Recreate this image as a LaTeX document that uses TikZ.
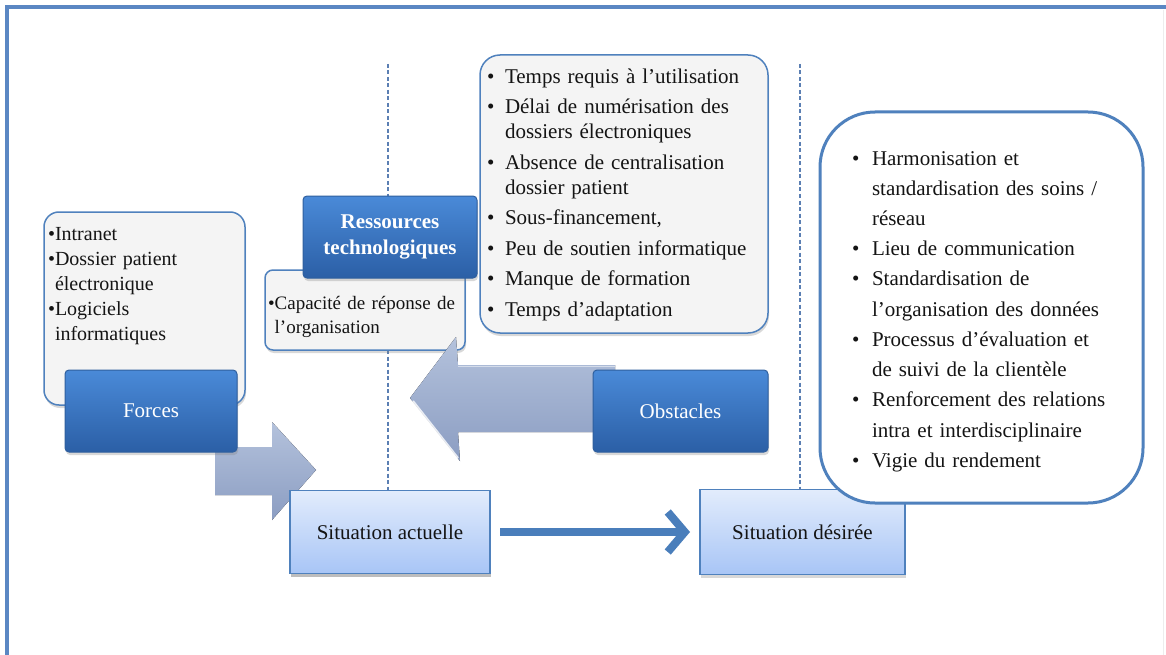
\documentclass[tikz,border=0pt]{standalone}
\usepackage{fontspec}
\setmainfont{Liberation Serif}
\usetikzlibrary{shadows,arrows.meta}

\definecolor{framec}{HTML}{5B87C3}
\definecolor{edgec}{HTML}{4F81BD}
\definecolor{darktop}{HTML}{4A8AD8}
\definecolor{darkbot}{HTML}{2B5FA6}
\definecolor{darkedge}{HTML}{2F5F9E}
\definecolor{paletop}{HTML}{E2ECFC}
\definecolor{palebot}{HTML}{A8C5F6}
\definecolor{panelfill}{HTML}{F4F4F4}
\definecolor{arrtop}{HTML}{B4C2DC}
\definecolor{arrbot}{HTML}{8B9DC2}
\definecolor{dashc}{HTML}{5B7FB3}
\definecolor{flowc}{HTML}{4A7EBB}
\definecolor{inkc}{HTML}{141414}

% bullet set in a box of fixed width, continuation lines hang under the text
\newcommand{\dotitem}[2]{\par\hangindent=#1\hangafter=1\noindent\makebox[#1][l]{•}#2}
% bullet glued to the text, continuation lines hang under the text
\newcommand{\tightitem}[1]{\par\setbox0=\hbox{•}\hangindent=\wd0 \hangafter=1\noindent\box0 #1}

\tikzset{
  every node/.style={inner sep=0pt, outer sep=0pt},
  softshadow/.style={drop shadow={opacity=0.3, shadow xshift=1pt, shadow yshift=-3pt}},
  titlebox/.style={draw=darkedge, line width=1pt, rounded corners=4pt,
    top color=darktop, bottom color=darkbot, text=white, align=center,
    font=\fontsize{21}{26}\selectfont, softshadow},
  panel/.style={draw=edgec, line width=1.5pt, fill=panelfill, softshadow},
  listtext/.style={text=inkc, align=left, anchor=north west},
  situation/.style={draw=edgec, line width=1.2pt, top color=paletop, bottom color=palebot,
    text=inkc, font=\fontsize{21}{26}\selectfont, softshadow},
  sepline/.style={dashc, line width=1.1pt, dash pattern=on 4pt off 2.5pt},
  blockarrow/.style={top color=arrtop, bottom color=arrbot, draw=none},
  flowarrow/.style={flowc, line width=8pt,
    -{Straight Barb[length=17pt, width=40pt, line width=8pt]}},
}

\begin{document}
\begin{tikzpicture}[x=1pt, y=-1pt]
\useasboundingbox (0,0) rectangle (1166,655);
\fill[white] (0,0) rectangle (1166,655);

% outer frame
\draw[framec, line width=4pt] (7,660) -- (7,7.5) -- (1170,7.5);
\draw[black!7, line width=1pt] (1163,10) -- (1163,655);

% situation boxes (placed first so the separators can end on them)
\node[situation, minimum width=200pt, minimum height=83pt] (sa) at (390,532) {Situation actuelle};
\node[situation, minimum width=205pt, minimum height=85pt] (sd) at (802.5,532) {Situation désirée};

% dashed separators
\coordinate (sep1) at (388,64);
\coordinate (sep2) at (800,64);
\draw[sepline] (sep1) -- (sep1 |- sa.north);
\draw[sepline] (sep2) -- (sep2 |- sd.north);

% strengths
\node[panel, rounded corners=15pt, minimum width=201pt, minimum height=193pt, anchor=north west]
  (forcespanel) at (44,212) {};
\node[listtext, text width=195pt, font=\fontsize{20}{25}\selectfont] (forceslist) at (48,215)
  {\tightitem{Intranet}\tightitem{Dossier patient\newline électronique}\tightitem{Logiciels\newline informatiques}\par};

% arrow pushing towards the current situation
\fill[blockarrow] (215,447) -- (272,447) -- (272,422) -- (316,470) -- (272,520) -- (272,495) -- (215,495) -- cycle;
\node[titlebox, minimum width=172pt, minimum height=82pt] (forces) at (151,411) {Forces};

% redraw the current situation over the arrow head
\node[situation, minimum width=200pt, minimum height=83pt] at (sa) {Situation actuelle};

% technological resources
\node[panel, rounded corners=8pt, minimum width=200pt, minimum height=80pt, anchor=north west]
  (capapanel) at (265,270) {};
\node[listtext, text width=195pt, font=\fontsize{19}{24}\selectfont] (capalist) at (268,285)
  {\tightitem{Capacité de réponse de\newline l’organisation}\par};
\node[titlebox, font=\bfseries\fontsize{21}{26}\selectfont, minimum width=174pt, minimum height=82pt]
  (ressources) at (390,237) {Ressources\\technologiques};

% obstacles
\node[panel, rounded corners=20pt, minimum width=288pt, minimum height=278pt, anchor=north west]
  (obstpanel) at (480,55) {};
\node[listtext, text width=280pt, font=\fontsize{21}{25}\selectfont] (obstlist) at (487,53)
  {\setlength{\parskip}{5.5pt}%
   \dotitem{18pt}{Temps requis à l’utilisation}%
   \dotitem{18pt}{Délai de numérisation des\newline dossiers électroniques}%
   \dotitem{18pt}{Absence de centralisation\newline dossier patient}%
   \dotitem{18pt}{Sous-financement,}%
   \dotitem{18pt}{Peu de soutien informatique}%
   \dotitem{18pt}{Manque de formation}%
   \dotitem{18pt}{Temps d’adaptation}\par};

% arrow pushing back against the current situation
\fill[blockarrow] (615,365) -- (458,365) -- (456,337) -- (410,398) -- (460,461) -- (458,432) -- (615,432) -- cycle;
\draw[white, opacity=0.8, line width=2pt] (413,401) -- (458,458);
\draw[white, opacity=0.5, line width=1pt] (458,366) -- (615,366);
\node[titlebox, minimum width=175pt, minimum height=82pt] (obstacles) at (680.5,411) {Obstacles};

% transition from current to desired situation
\draw[flowarrow, shorten <=10pt, shorten >=10pt] (sa) -- (sd);

% desired situation details
\node[draw=edgec, line width=3pt, fill=white, rounded corners=55pt,
  minimum width=323pt, minimum height=391pt, anchor=north west] (goalpanel) at (820,112) {};
\node[listtext, text width=300pt, font=\fontsize{21}{30.2}\selectfont] (goallist) at (852,135)
  {\dotitem{20pt}{Harmonisation et\newline standardisation des soins /\newline réseau}%
   \dotitem{20pt}{Lieu de communication}%
   \dotitem{20pt}{Standardisation de\newline l’organisation des données}%
   \dotitem{20pt}{Processus d’évaluation et\newline de suivi de la clientèle}%
   \dotitem{20pt}{Renforcement des relations\newline intra et interdisciplinaire}%
   \dotitem{20pt}{Vigie du rendement}\par};
\end{tikzpicture}
\end{document}
